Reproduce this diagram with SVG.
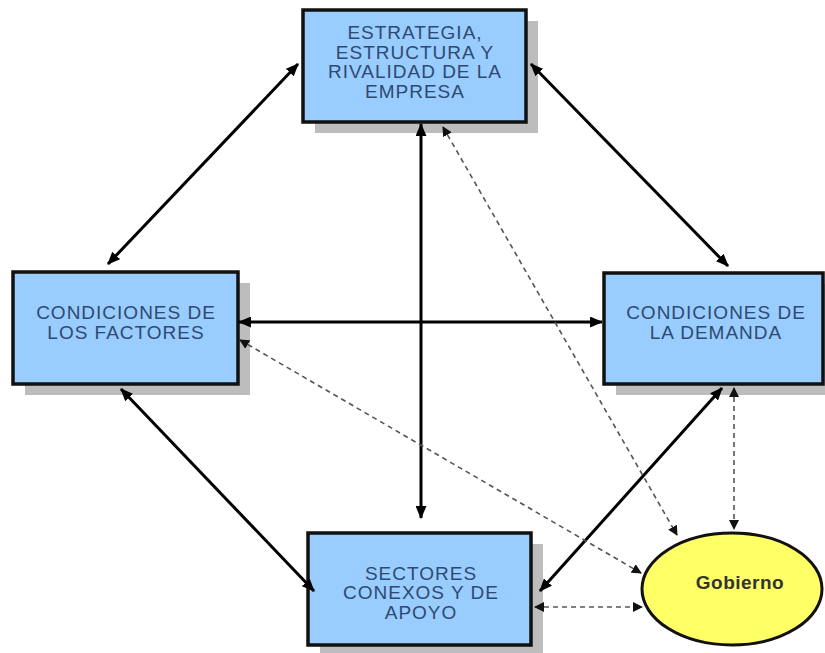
<svg xmlns="http://www.w3.org/2000/svg" width="825" height="653" viewBox="0 0 825 653">
  <style>
    .shadow { fill: #bdbdbd; }
    .box { fill: #99ccff; stroke: #111111; stroke-width: 3.5; }
    .label { font-family: "Liberation Sans", Arial, sans-serif; font-size: 19px; letter-spacing: 1px; fill: #2e4a70; text-anchor: middle; }
    .gov { fill: #ffff66; stroke: #111111; stroke-width: 3; }
    .govtext { font-family: "Liberation Sans", Arial, sans-serif; font-size: 19px; font-weight: bold; fill: #333333; text-anchor: middle; letter-spacing: 0.5px; }
    .solid { stroke: #000000; stroke-width: 3; fill: none; marker-start: url(#head); marker-end: url(#head); }
    .dashed { stroke: #555555; stroke-width: 1.6; stroke-dasharray: 5 4; fill: none; marker-start: url(#dhead); marker-end: url(#dhead); }
  </style>
  <defs>
    <marker id="head" viewBox="0 0 12 10" refX="11" refY="5" markerWidth="13" markerHeight="11" markerUnits="userSpaceOnUse" orient="auto-start-reverse">
      <path d="M0,0 L12,5 L0,10 Z" fill="#000000"/>
    </marker>
    <marker id="dhead" viewBox="0 0 10 10" refX="9" refY="5" markerWidth="10" markerHeight="10" markerUnits="userSpaceOnUse" orient="auto-start-reverse">
      <path d="M0,0 L10,5 L0,10 Z" fill="#111111"/>
    </marker>
  </defs>

  <rect width="825" height="653" fill="#ffffff"/>

  <!-- Estrategia -->
  <g id="node-estrategia">
    <rect class="shadow" x="315" y="21" width="223" height="112"/>
    <rect class="box" x="303" y="10" width="223" height="112"/>
    <text class="label" x="415" y="39">ESTRATEGIA,</text>
    <text class="label" x="415" y="58.5">ESTRUCTURA Y</text>
    <text class="label" x="415" y="78">RIVALIDAD DE LA</text>
    <text class="label" x="415" y="97.5">EMPRESA</text>
  </g>

  <!-- Condiciones de los factores -->
  <g id="node-factores">
    <rect class="shadow" x="25" y="283" width="225" height="112"/>
    <rect class="box" x="13" y="272" width="225" height="112"/>
    <text class="label" x="126" y="319">CONDICIONES DE</text>
    <text class="label" x="126" y="339">LOS FACTORES</text>
  </g>

  <!-- Condiciones de la demanda -->
  <g id="node-demanda">
    <rect class="shadow" x="616" y="284" width="219" height="111"/>
    <rect class="box" x="604" y="273" width="219" height="111"/>
    <text class="label" x="716" y="319">CONDICIONES DE</text>
    <text class="label" x="716" y="339">LA DEMANDA</text>
  </g>

  <!-- Sectores conexos -->
  <g id="node-sectores">
    <rect class="shadow" x="320" y="544" width="223" height="112"/>
    <rect class="box" x="308" y="533" width="223" height="112"/>
    <text class="label" x="421" y="579.5">SECTORES</text>
    <text class="label" x="421" y="599">CONEXOS Y DE</text>
    <text class="label" x="421" y="618.5">APOYO</text>
  </g>

  <!-- Gobierno -->
  <g id="node-gobierno">
    <ellipse class="gov" cx="732" cy="589" rx="90" ry="56"/>
    <text class="govtext" x="740" y="589">Gobierno</text>
  </g>

  <!-- connectors, drawn over the box shadows -->
  <g id="connectors">
    <line class="solid" x1="298" y1="64" x2="108" y2="264"/>
    <line class="solid" x1="531" y1="64" x2="728" y2="266"/>
    <line class="solid" x1="239" y1="322" x2="602" y2="322"/>
    <line class="solid" x1="421" y1="124" x2="421" y2="518"/>
    <line class="solid" x1="121" y1="389" x2="314" y2="591"/>
    <line class="solid" x1="722" y1="388" x2="540" y2="591"/>
    <line class="dashed" x1="443" y1="127" x2="677" y2="535"/>
    <line class="dashed" x1="240" y1="340" x2="641" y2="573"/>
    <line class="dashed" x1="734" y1="388" x2="734" y2="529"/>
    <line class="dashed" x1="535" y1="607" x2="642" y2="607"/>
  </g>
</svg>
